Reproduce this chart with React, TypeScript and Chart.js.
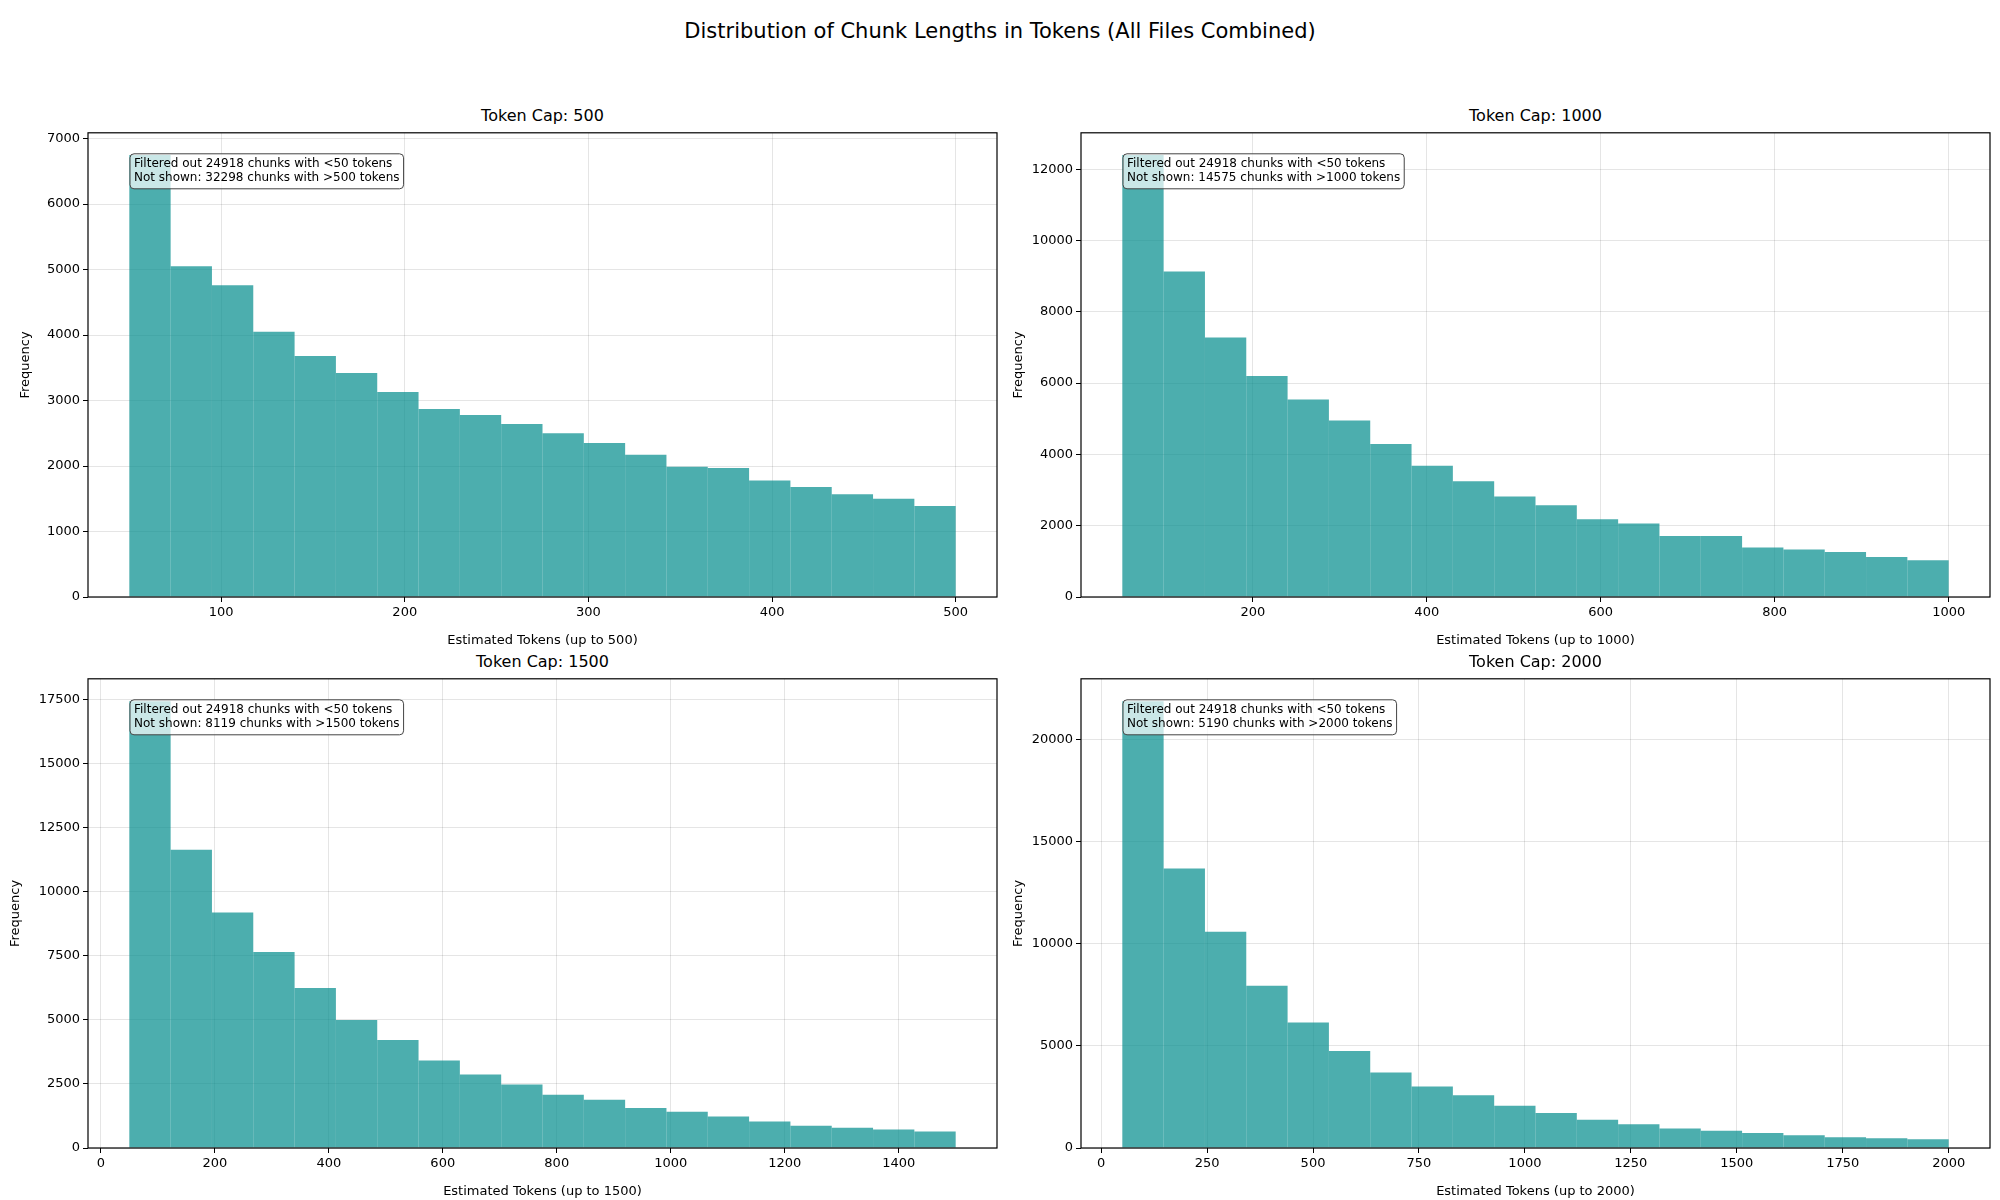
import { useEffect, useRef } from 'react';
import { Chart, registerables, type Plugin } from 'chart.js';

Chart.register(...registerables);

const FONT = '"DejaVu Sans", sans-serif';
const BAR_COLOR = 'rgba(0, 139, 139, 0.7)';

const caps = [500, 1000, 1500, 2000];
const minTokens = 50;
const filteredOut = 24918;
const notShown = [32298, 14575, 8119, 5190];

const counts500 = [6750, 5050, 4760, 4050, 3680, 3420, 3130, 2870, 2780, 2640, 2500, 2350, 2170, 1990, 1970, 1780, 1680, 1570, 1500, 1390];
const counts1000 = [12400, 9130, 7280, 6200, 5540, 4950, 4290, 3680, 3250, 2820, 2570, 2180, 2060, 1710, 1710, 1390, 1330, 1260, 1120, 1030];
const counts1500 = [17450, 11650, 9200, 7650, 6250, 5000, 4220, 3420, 2870, 2480, 2080, 1880, 1560, 1420, 1230, 1030, 870, 790, 720, 640];
const counts2000 = [21900, 13700, 10600, 7950, 6150, 4750, 3700, 3020, 2580, 2070, 1720, 1380, 1170, 960, 840, 730, 620, 530, 480, 430];
const allCounts = [counts500, counts1000, counts1500, counts2000];

const xTicks = [
  [100, 200, 300, 400, 500],
  [200, 400, 600, 800, 1000],
  [0, 200, 400, 600, 800, 1000, 1200, 1400],
  [0, 250, 500, 750, 1000, 1250, 1500, 1750, 2000],
];
const yTicks = [
  [0, 1000, 2000, 3000, 4000, 5000, 6000, 7000],
  [0, 2000, 4000, 6000, 8000, 10000, 12000],
  [0, 2500, 5000, 7500, 10000, 12500, 15000, 17500],
  [0, 5000, 10000, 15000, 20000],
];

// panel chart areas in page pixels: left, top, right, bottom
const areas = [
  [88, 132, 997, 597],
  [1081, 132, 1990, 597],
  [88, 678, 997, 1148],
  [1081, 678, 1990, 1148],
];
const Y_AXIS_W = 88;
const X_AXIS_H = 55;
const PAD_TOP = 10;
const PAD_RIGHT = 10;

const framePlugin: Plugin = {
  id: 'frame',
  afterDraw(chart) {
    const { ctx, chartArea: a } = chart;
    ctx.save();
    ctx.strokeStyle = '#000';
    ctx.lineWidth = 1.2;
    ctx.strokeRect(a.left, a.top, a.right - a.left, a.bottom - a.top);
    ctx.restore();
  },
};

function makeNotePlugin(lines: string[]): Plugin {
  return {
    id: 'note',
    afterDatasetsDraw(chart) {
      const { ctx, chartArea: a } = chart;
      ctx.save();
      ctx.font = `12px ${FONT}`;
      const w = Math.max(...lines.map((l) => ctx.measureText(l).width)) + 8;
      const h = 35;
      const x = a.left + 42;
      const y = a.top + 21;
      ctx.beginPath();
      ctx.roundRect(x, y, w, h, 4);
      ctx.fillStyle = 'rgba(255,255,255,0.7)';
      ctx.fill();
      ctx.strokeStyle = '#444';
      ctx.lineWidth = 1;
      ctx.stroke();
      ctx.fillStyle = '#000';
      ctx.textBaseline = 'middle';
      lines.forEach((l, i) => ctx.fillText(l, x + 4, y + 10 + i * 14.5));
      ctx.restore();
    },
  };
}

function Panel({ idx }: { idx: number }) {
  const canvasRef = useRef<HTMLCanvasElement>(null);
  const cap = caps[idx];
  const [l, t, r, b] = areas[idx];

  useEffect(() => {
    if (!canvasRef.current) return;
    const counts = allCounts[idx];
    const binW = (cap - minTokens) / counts.length;
    const span = cap - minTokens;
    const ymax = Math.max(...counts) * 1.05;
    const chart = new Chart(canvasRef.current, {
      type: 'bar',
      data: {
        datasets: [
          {
            data: counts.map((c, i) => ({ x: minTokens + binW * (i + 0.5), y: c })),
            backgroundColor: BAR_COLOR,
            borderWidth: 0,
            inflateAmount: 0,
            barPercentage: 1,
            categoryPercentage: 1,
          },
        ],
      },
      options: {
        animation: false,
        responsive: false,
        devicePixelRatio: 1,
        layout: { autoPadding: false, padding: { top: PAD_TOP, right: PAD_RIGHT, left: 0, bottom: 0 } },
        plugins: { legend: { display: false }, title: { display: false }, tooltip: { enabled: false } },
        scales: {
          x: {
            type: 'linear',
            offset: false,
            min: minTokens - span * 0.05,
            max: cap + span * 0.05,
            afterBuildTicks: (s) => {
              s.ticks = xTicks[idx].map((v) => ({ value: v }));
            },
            afterFit: (s) => {
              s.height = X_AXIS_H;
            },
            grid: { color: 'rgba(0,0,0,0.1)', tickColor: '#000', tickLength: 5, offset: false },
            border: { display: false },
            ticks: {
              color: '#000',
              font: { family: FONT, size: 13 },
              padding: 3,
              maxRotation: 0,
              autoSkip: false,
              callback: (v) => String(v),
            },
            title: { display: true, text: `Estimated Tokens (up to ${cap})`, color: '#000', font: { family: FONT, size: 13 }, padding: { top: 2 } },
          },
          y: {
            min: 0,
            max: ymax,
            afterBuildTicks: (s) => {
              s.ticks = yTicks[idx].map((v) => ({ value: v }));
            },
            afterFit: (s) => {
              s.width = Y_AXIS_W;
            },
            grid: { color: 'rgba(0,0,0,0.1)', tickColor: '#000', tickLength: 5 },
            border: { display: false },
            ticks: { color: '#000', font: { family: FONT, size: 13 }, padding: 3, autoSkip: false, callback: (v) => String(v) },
            title: { display: true, text: 'Frequency', color: '#000', font: { family: FONT, size: 13 }, padding: { top: idx === 2 ? 8 : 18, bottom: 2 } },
          },
        },
      },
      plugins: [
        framePlugin,
        makeNotePlugin([
          `Filtered out ${filteredOut} chunks with <${minTokens} tokens`,
          `Not shown: ${notShown[idx]} chunks with >${cap} tokens`,
        ]),
      ],
    });
    return () => chart.destroy();
  }, [idx, cap]);

  const cw = Y_AXIS_W + (r - l) + PAD_RIGHT;
  const ch = PAD_TOP + (b - t) + X_AXIS_H;
  return (
    <>
      <div
        style={{
          position: 'absolute',
          left: l,
          width: r - l,
          top: t - 26,
          textAlign: 'center',
          fontFamily: FONT,
          fontSize: 16,
          color: '#000',
        }}
      >
        Token Cap: {cap}
      </div>
      <canvas
        ref={canvasRef}
        width={cw}
        height={ch}
        style={{ position: 'absolute', left: l - Y_AXIS_W, top: t - PAD_TOP, width: cw, height: ch }}
      />
    </>
  );
}

export default function App() {
  useEffect(() => {
    document.body.style.margin = '0';
  }, []);
  return (
    <div style={{ position: 'relative', width: 2000, height: 1200, background: '#fff' }}>
      <div
        style={{
          position: 'absolute',
          top: 19,
          left: 0,
          width: 2000,
          textAlign: 'center',
          fontFamily: FONT,
          fontSize: 21,
          color: '#000',
        }}
      >
        Distribution of Chunk Lengths in Tokens (All Files Combined)
      </div>
      {caps.map((_, i) => (
        <Panel key={i} idx={i} />
      ))}
    </div>
  );
}
